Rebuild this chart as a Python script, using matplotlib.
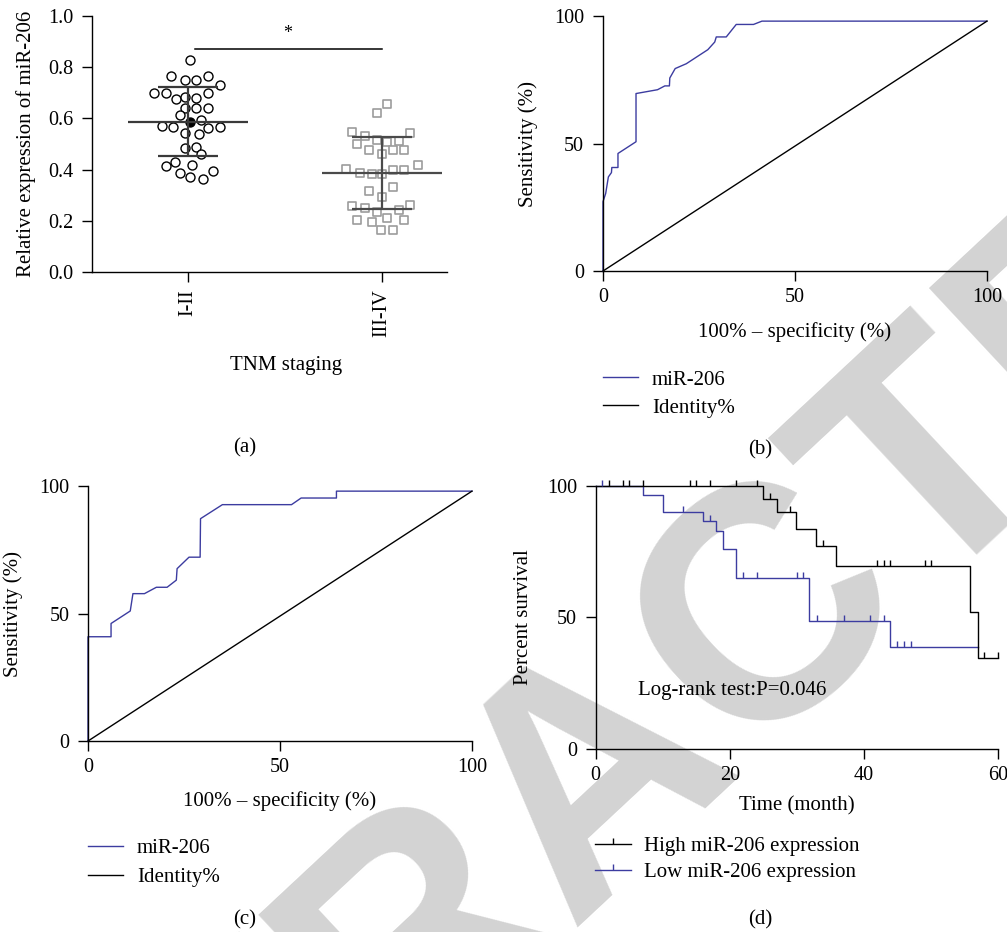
import matplotlib.pyplot as plt
import numpy as np
from matplotlib.lines import Line2D

plt.rcParams['font.family'] = ['Liberation Serif', 'DejaVu Serif']
plt.rcParams['font.size'] = 15
plt.rcParams['axes.linewidth'] = 1.0
plt.rcParams['xtick.major.size'] = 7.5
plt.rcParams['ytick.major.size'] = 7.5
plt.rcParams['xtick.major.pad'] = 5
plt.rcParams['ytick.major.pad'] = 6
plt.rcParams['xtick.labelsize'] = 14.5
plt.rcParams['ytick.labelsize'] = 14.5

BLUE = '#3c3ca0'

# ---- data (a): TNM staging scatter
stage_labels = ['I-II', 'III-IV']
early_expr = [0.828, 0.764, 0.748, 0.748, 0.764, 0.730, 0.700, 0.700, 0.674, 0.684,
              0.681, 0.698, 0.639, 0.639, 0.639, 0.615, 0.593, 0.572, 0.565, 0.561,
              0.565, 0.544, 0.540, 0.485, 0.489, 0.460, 0.430, 0.413, 0.417, 0.385,
              0.372, 0.362, 0.394]
early_jitter = [0.009, -0.089, -0.017, 0.043, 0.103, 0.163, -0.174, -0.113, -0.064, -0.015,
                0.043, 0.103, -0.015, 0.043, 0.103, -0.043, 0.069, -0.136, -0.077, 0.103,
                0.163, -0.017, 0.055, -0.017, 0.043, 0.069, -0.065, -0.113, 0.021, -0.043,
                0.009, 0.077, 0.129]
late_expr = [0.656, 0.619, 0.546, 0.531, 0.541, 0.499, 0.515, 0.508, 0.512, 0.476,
             0.460, 0.476, 0.476, 0.404, 0.386, 0.381, 0.382, 0.398, 0.398, 0.418,
             0.317, 0.331, 0.291, 0.259, 0.250, 0.235, 0.241, 0.261, 0.202, 0.196,
             0.211, 0.202, 0.163, 0.163]
late_jitter = [0.027, -0.027, -0.153, -0.086, 0.146, -0.127, -0.024, 0.027, 0.086, -0.069,
               0.002, 0.058, 0.113, -0.184, -0.113, -0.053, 0.002, 0.058, 0.113, 0.187,
               -0.069, 0.058, 0.002, -0.153, -0.086, -0.027, 0.086, 0.146, -0.127, -0.053,
               0.027, 0.113, -0.007, 0.058]
group_mean = [0.585, 0.386]
group_sd_low = [0.454, 0.246]
group_sd_high = [0.721, 0.528]

# ---- data (b), (c): ROC curves
roc_b_fpr = [0, 0, 0.7, 1.4, 2.2, 2.3, 3.9, 3.9, 8.6, 8.6, 14.2, 16.1, 17.3, 17.4,
             18.8, 21.7, 27.3, 29.1, 29.5, 32.1, 34.7, 39.2, 41.4, 100]
roc_b_tpr = [0, 27.2, 30.4, 36.9, 38.6, 40.6, 40.6, 46.1, 50.7, 69.6, 71.1, 72.6, 72.6, 75.7,
             79.4, 81.3, 86.8, 89.8, 91.8, 91.8, 96.7, 96.7, 98.0, 98.0]
roc_c_fpr = [0, 0, 6.0, 6.0, 11.0, 11.7, 14.7, 17.8, 20.6, 23.0, 23.2, 26.3, 29.2, 29.3,
             35.0, 53.0, 55.5, 64.7, 64.7, 100]
roc_c_tpr = [0, 40.9, 40.9, 46.1, 51.0, 57.8, 57.8, 60.3, 60.3, 63.1, 67.6, 72.1, 72.1, 87.2,
             92.7, 92.7, 95.3, 95.3, 98.0, 98.0]
identity_x = [0, 100]
identity_y = [0, 98]

# ---- data (d): Kaplan-Meier
high_time = [0, 24.9, 27.0, 29.95, 32.9, 35.9, 55.9, 57.0, 60.0]
high_surv = [100, 95.0, 90.0, 83.8, 77.2, 69.5, 51.9, 34.5, 34.5]
high_cens_time = [2.0, 4.0, 5.0, 7.0, 14.0, 15.0, 17.0, 21.0, 24.0, 26.0, 29.0, 33.9,
                  42.0, 43.0, 43.9, 49.1, 50.0, 58.0, 60.0]
high_cens_surv = [100, 100, 100, 100, 100, 100, 100, 100, 100, 95.0, 90.0, 77.2,
                  69.5, 69.5, 69.5, 69.5, 69.5, 34.5, 34.5]
low_time = [0, 7.0, 10.0, 16.0, 18.0, 19.0, 21.0, 31.9, 43.9, 57.0]
low_surv = [100, 96.7, 90.0, 86.5, 83.0, 75.9, 64.8, 48.5, 38.6, 38.6]
low_cens_time = [1.0, 13.0, 17.0, 22.0, 24.0, 30.0, 31.0, 33.0, 37.0, 41.0, 43.0,
                 45.0, 46.0, 47.0]
low_cens_surv = [100, 90.0, 86.5, 64.8, 64.8, 64.8, 64.8, 48.5, 48.5, 48.5, 48.5,
                 38.6, 38.6, 38.6]

fig = plt.figure(figsize=(10.07, 9.32), dpi=100)

# watermark behind everything
fig.text(0.6495, 0.103, 'RETRACTED', rotation=43, rotation_mode='anchor',
         ha='center', va='baseline', fontsize=238, fontweight='bold',
         family='Liberation Sans', color='#d3d3d3', zorder=-1)


def style(ax):
    ax.set_facecolor('none')
    ax.spines['top'].set_visible(False)
    ax.spines['right'].set_visible(False)
    ax.tick_params(direction='out', width=1.0)


# ---------------- (a)
ax = fig.add_axes([0.0914, 0.7082, 0.3525, 0.2747])
style(ax)
ax.scatter(np.array(early_jitter), early_expr, s=42, facecolors='white',
           edgecolors='black', linewidths=1.0, zorder=3)
ax.scatter(1 + np.array(late_jitter), late_expr, marker='s', s=28, facecolors='white',
           edgecolors='#9c9c9c', linewidths=1.2, zorder=3)
ax.scatter([0.012], [group_mean[0]], s=42, color='black', zorder=4)
for i, c in enumerate(['#3a3a3a', '#4a4a4a']):
    ax.hlines(group_mean[i], i - 0.31, i + 0.31, color=c, lw=1.6, zorder=5)
    ax.hlines([group_sd_low[i], group_sd_high[i]], i - 0.155, i + 0.155, color=c, lw=1.6, zorder=5)
    ax.vlines(i, group_sd_low[i], group_sd_high[i], color=c, lw=1.6, zorder=5)
ax.plot([0.034, 1.0], [0.87, 0.87], color='black', lw=1.1)
ax.text(0.515, 0.93, '*', ha='center', va='center', fontsize=13)
ax.set_xlim(-0.495, 1.335)
ax.set_ylim(0, 1.0)
ax.set_yticks([0, 0.2, 0.4, 0.6, 0.8, 1.0])
ax.set_yticklabels(['0.0', '0.2', '0.4', '0.6', '0.8', '1.0'])
ax.set_xticks([0, 1])
ax.set_xticklabels(stage_labels, rotation=90)
ax.set_xlabel('TNM staging')
ax.xaxis.set_label_coords(0.546, -0.33)
ax.set_ylabel('Relative expression of miR-206')
ax.yaxis.set_label_coords(-0.158, 0.5)

# ---------------- (b)
ax = fig.add_axes([0.5988, 0.7092, 0.3813, 0.2736])
style(ax)
l1, = ax.plot(roc_b_fpr, roc_b_tpr, color=BLUE, lw=1.0, clip_on=False, label='miR-206')
l2, = ax.plot(identity_x, identity_y, color='black', lw=1.0, clip_on=False, label='Identity%')
ax.set_xlim(0, 100)
ax.set_ylim(0, 100)
ax.set_xticks([0, 50, 100])
ax.set_yticks([0, 50, 100])
ax.set_xlabel('100% – specificity (%)')
ax.xaxis.set_label_coords(0.5, -0.2)
ax.set_ylabel('Sensitivity (%)')
ax.yaxis.set_label_coords(-0.169, 0.5)
ax.legend(handles=[l1, l2], loc='center left', bbox_to_anchor=(0.5988, 0.5773),
          bbox_transform=fig.transFigure, frameon=False, borderpad=0, borderaxespad=0,
          handlelength=1.7, handletextpad=0.65, labelspacing=0.4, fontsize=15)

# ---------------- (c)
ax = fig.add_axes([0.0874, 0.2049, 0.3813, 0.2736])
style(ax)
l1, = ax.plot(roc_c_fpr, roc_c_tpr, color=BLUE, lw=1.0, clip_on=False, label='miR-206')
l2, = ax.plot(identity_x, identity_y, color='black', lw=1.0, clip_on=False, label='Identity%')
ax.set_xlim(0, 100)
ax.set_ylim(0, 100)
ax.set_xticks([0, 50, 100])
ax.set_yticks([0, 50, 100])
ax.set_xlabel('100% – specificity (%)')
ax.xaxis.set_label_coords(0.5, -0.196)
ax.set_ylabel('Sensitivity (%)')
ax.yaxis.set_label_coords(-0.169, 0.5)
ax.legend(handles=[l1, l2], loc='center left', bbox_to_anchor=(0.0874, 0.074),
          bbox_transform=fig.transFigure, frameon=False, borderpad=0, borderaxespad=0,
          handlelength=1.7, handletextpad=0.65, labelspacing=0.45, fontsize=15)

# ---------------- (d)
ax = fig.add_axes([0.5916, 0.1967, 0.3992, 0.2819])
style(ax)
ax.step(low_time, low_surv, where='post', color=BLUE, lw=1.0, clip_on=False)
ax.step(high_time, high_surv, where='post', color='black', lw=1.0, clip_on=False)
ax.plot(low_cens_time, low_cens_surv, ls='none', marker=2, ms=4.5, mew=1.0,
        color=BLUE, clip_on=False)
ax.plot(high_cens_time, high_cens_surv, ls='none', marker=2, ms=4.5, mew=1.0,
        color='black', clip_on=False)
ax.text(6.3, 22.3, 'Log-rank test:P=0.046', ha='left', va='center', fontsize=15)
ax.set_xlim(0, 60)
ax.set_ylim(0, 100)
ax.set_xticks([0, 20, 40, 60])
ax.set_yticks([0, 50, 100])
ax.set_xlabel('Time (month)')
ax.xaxis.set_label_coords(0.5, -0.18)
ax.set_ylabel('Percent survival')
ax.yaxis.set_label_coords(-0.156, 0.5)
km_handles = [Line2D([], [], color='black', lw=1.0, marker=2, ms=4.5, mew=1.0),
              Line2D([], [], color=BLUE, lw=1.0, marker=2, ms=4.5, mew=1.0)]
ax.legend(km_handles, ['High miR-206 expression', 'Low miR-206 expression'],
          loc='center left', bbox_to_anchor=(0.591, 0.0778), bbox_transform=fig.transFigure,
          frameon=False, borderpad=0, borderaxespad=0, handlelength=1.7,
          handletextpad=0.65, labelspacing=0.3, numpoints=1, fontsize=15)

# panel letters
for lab, x, y in [('(a)', 245, 448), ('(b)', 760, 450), ('(c)', 245, 920), ('(d)', 760, 920)]:
    fig.text(x / 1007, 1 - y / 932, lab, ha='center', va='center', fontsize=15)

fig.savefig('out.png', dpi=100)
